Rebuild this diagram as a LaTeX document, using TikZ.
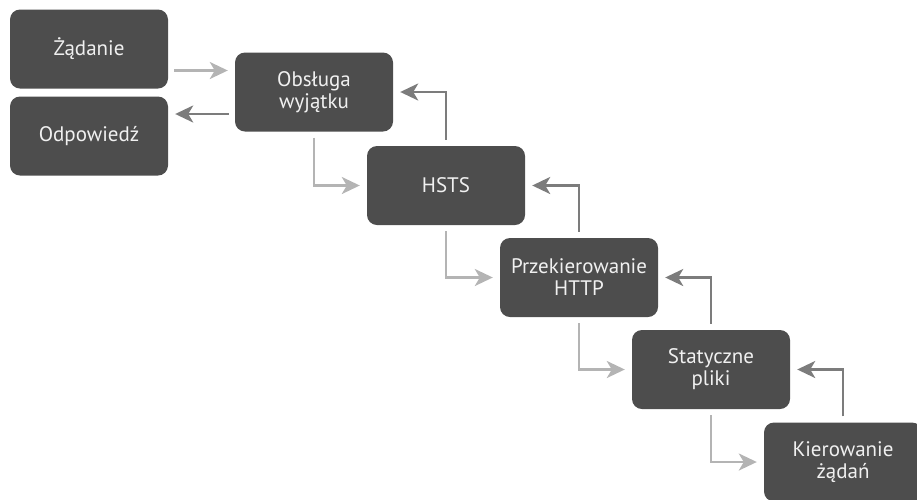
\documentclass[tikz,border=0pt]{standalone}
\usepackage{fontspec}
\setmainfont{PT Sans}
\usetikzlibrary{arrows.meta, calc}
\tikzset{>={Stealth[length=18pt, width=17pt, inset=5pt]}}
\definecolor{boxgray}{HTML}{4D4D4D}
\definecolor{fwdgray}{HTML}{B4B4B4}
\definecolor{backgray}{HTML}{7C7C7C}

\begin{document}
\begin{tikzpicture}[x=1pt, y=-1pt,
    stage/.style={rectangle, rounded corners=10pt, fill=boxgray, text=white!94!black,
        minimum width=158pt, minimum height=79pt, align=center,
        font=\fontsize{21}{22}\selectfont},
    fwd/.style={->, draw=fwdgray, line width=2.6pt, shorten <=6pt, shorten >=7pt},
    back/.style={->, draw=backgray, line width=2.6pt, shorten <=6pt, shorten >=7pt}]
    \clip (0,0) rectangle (917,499);
    \node[stage] (req) at (89,49) {Żądanie};
    \node[stage] (resp) at (89,136) {Odpowiedź};
    \node[stage] (exc) at (314,92) {Obsługa\\wyjątku};
    \node[stage] (hsts) at (446,185.5) {HSTS};
    \node[stage] (redir) at (579,277.5) {Przekierowanie\\HTTP};
    \node[stage] (static) at (711,369.5) {Statyczne\\pliki};
    \node[stage] (route) at (843,462) {Kierowanie\\żądań};
    % request and response
    \path ($(req.east)!.5!(exc.west)$) coordinate (in);
    \path ($(resp.east)!.5!(exc.west)$) coordinate (out);
    \draw[fwd] (req.east |- in) -- (exc.west |- in);
    \draw[back] (exc.west |- out) -- (resp.east |- out);
    % down the pipeline
    \draw[fwd] (exc.south) |- (hsts.west);
    \draw[fwd] (hsts.south) |- (redir.west);
    \draw[fwd] (redir.south) |- (static.west);
    \draw[fwd] (static.south) |- (route.west);
    % back up
    \draw[back] (hsts.north) |- (exc.east);
    \draw[back] (redir.north) |- (hsts.east);
    \draw[back] (static.north) |- (redir.east);
    \draw[back] (route.north) |- (static.east);
\end{tikzpicture}
\end{document}
